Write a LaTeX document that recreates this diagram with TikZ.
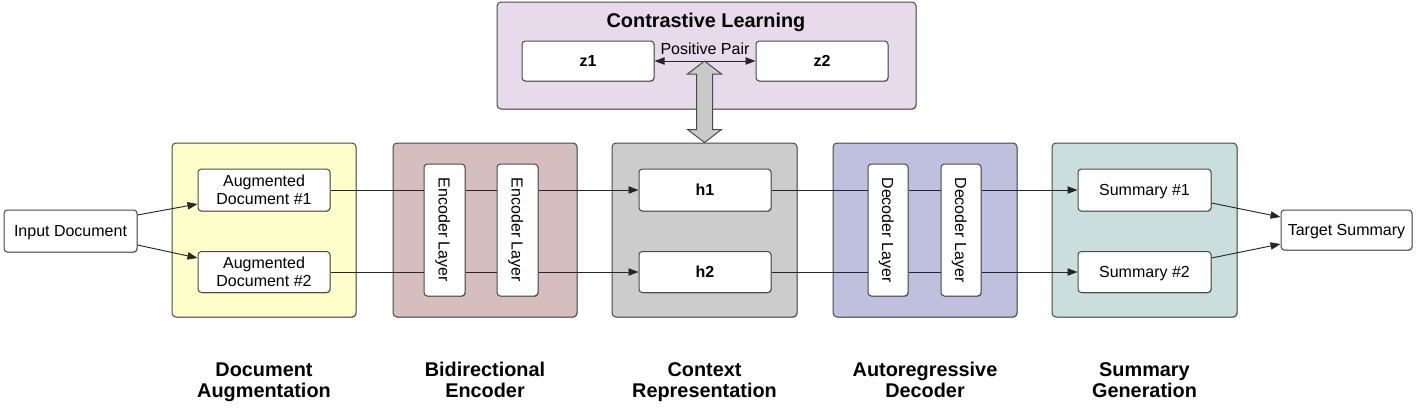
\documentclass[tikz,border=0pt]{standalone}
\usepackage{fontspec}
\setmainfont{Liberation Sans}
\usetikzlibrary{arrows.meta,shadows,calc}
\definecolor{augc}{HTML}{FFFFCC}
\definecolor{encc}{HTML}{D6BDBE}
\definecolor{ctxc}{HTML}{CCCCCC}
\definecolor{decc}{HTML}{BFBFDE}
\definecolor{sumc}{HTML}{CADFDD}
\definecolor{clc}{HTML}{E7DAEA}
\definecolor{edge}{HTML}{4A4A4A}
\begin{document}
\begin{tikzpicture}[x=0.75pt,y=-0.75pt,
  sz/.style n args={2}{minimum width=#1*0.75pt, minimum height=#2*0.75pt},
  shd/.style={drop shadow={shadow xshift=0.5pt, shadow yshift=-0.6pt, opacity=0.3, fill=black}},
  grp/.style={draw=edge, line width=0.75pt, rounded corners=3pt, inner sep=0pt, shd},
  wbox/.style={draw=edge, fill=white, line width=0.75pt, rounded corners=2.5pt, inner sep=0pt, align=center, font=\fontsize{12}{13.2}\selectfont, shd},
  one/.style={wbox, text depth=0pt},
  bbox/.style={one, font=\fontsize{12}{13.2}\selectfont\bfseries},
  lay/.style={one, rotate=-90},
  lab/.style={align=center, font=\fontsize{14.9}{15.75}\selectfont\bfseries, inner sep=0pt},
  conn/.style={draw=black!85, line width=0.7pt},
  tip/.tip={Triangle[length=7.5pt,width=5.5pt]},
  arr/.style={conn, -tip}
]
\useasboundingbox (0,0) rectangle (1417,412);

% group boxes
\node[grp, fill=clc, sz={419}{107}] (cl) at (706.5,55.5) {};
\node[grp, fill=augc, sz={184}{174}] (gaug) at (264,230) {};
\node[grp, fill=encc, sz={184}{174}] (genc) at (485,230) {};
\node[grp, fill=ctxc, sz={185}{174}] (ctx) at (704.5,230) {};
\node[grp, fill=decc, sz={184}{174}] (gdec) at (925,230) {};
\node[grp, fill=sumc, sz={185}{174}] (gsum) at (1144.5,230) {};

% title and contrastive nodes
\node[font=\fontsize{14.9}{16}\selectfont\bfseries, anchor=base] (cltitle) at (706,27) {Contrastive Learning};
\node[bbox, sz={132}{40}] (z1) at (588,61) {z1};
\node[bbox, sz={132}{40}] (z2) at (822,61) {z2};
\draw[conn, tip-tip] (z1.east) -- (z2.west);
\node[font=\fontsize{12}{13}\selectfont, anchor=base] (pp) at (705,54) {Positive Pair};

% inner nodes
\node[one, sz={133}{42}] (input) at (70.5,231) {Input Document};
\node[wbox, sz={132}{42}] (aug1) at (264,190) {Augmented\\Document \#1};
\node[wbox, sz={132}{41}] (aug2) at (264,272) {Augmented\\Document \#2};
\node[lay, sz={132}{41}] (enc1) at (444.5,230) {Encoder Layer};
\node[lay, sz={132}{41}] (enc2) at (517.5,230) {Encoder Layer};
\node[bbox, sz={132}{42}] (h1) at (705,190) {h1};
\node[bbox, sz={132}{41}] (h2) at (705,272) {h2};
\node[lay, sz={132}{40}] (dec1) at (888,230) {Decoder Layer};
\node[lay, sz={132}{40}] (dec2) at (961,230) {Decoder Layer};
\node[one, sz={133}{42}] (sum1) at (1144.5,190) {Summary \#1};
\node[one, sz={133}{41}] (sum2) at (1144.5,272) {Summary \#2};
\node[one, sz={131}{40}] (target) at (1346.5,230) {Target Summary};

% connectors (rotated layers: south = left side, north = right side)
\draw[arr] ($(input.east)+(0,-16)$) -- ($(aug1.west)+(0,14)$);
\draw[arr] ($(input.east)+(0,14)$) -- ($(aug2.west)+(0,-14)$);

\draw[conn] (aug1.east) -- (aug1.east -| enc1.south);
\draw[conn] (aug1.east -| enc1.north) -- (aug1.east -| enc2.south);
\draw[arr] (aug1.east -| enc2.north) -- (h1.west);
\draw[conn] (aug2.east) -- (aug2.east -| enc1.south);
\draw[conn] (aug2.east -| enc1.north) -- (aug2.east -| enc2.south);
\draw[arr] (aug2.east -| enc2.north) -- (h2.west);

\draw[conn] (h1.east) -- (h1.east -| dec1.south);
\draw[conn] (h1.east -| dec1.north) -- (h1.east -| dec2.south);
\draw[arr] (h1.east -| dec2.north) -- (sum1.west);
\draw[conn] (h2.east) -- (h2.east -| dec1.south);
\draw[conn] (h2.east -| dec1.north) -- (h2.east -| dec2.south);
\draw[arr] (h2.east -| dec2.north) -- (sum2.west);

\draw[arr] ($(sum1.east)+(0,13)$) -- ($(target.west)+(0,-13)$);
\draw[arr] ($(sum2.east)+(0,-14)$) -- ($(target.west)+(0,14)$);

% double arrow between contrastive learning and context
\coordinate (dt) at (ctx.north |- z1.east);
\coordinate (db) at (ctx.north);
\draw[draw=edge, fill=gray!42, line width=0.75pt, line join=miter]
  (dt) -- ($(dt)+(17,13)$) -- ($(dt)+(8,13)$) -- ($(db)+(8,-13)$) -- ($(db)+(17,-13)$)
  -- (db) -- ($(db)+(-17,-13)$) -- ($(db)+(-8,-13)$) -- ($(dt)+(-8,13)$) -- ($(dt)+(-17,13)$) -- cycle;

% bottom labels (base anchor = last line baseline)
\node[lab, anchor=base] (l1) at (gaug.south |- 0,397) {Document\\Augmentation};
\node[lab, anchor=base] (l2) at (genc.south |- 0,397) {Bidirectional\\Encoder};
\node[lab, anchor=base] (l3) at (ctx.south |- 0,397) {Context\\Representation};
\node[lab, anchor=base] (l4) at (gdec.south |- 0,397) {Autoregressive\\Decoder};
\node[lab, anchor=base] (l5) at (gsum.south |- 0,397) {Summary\\Generation};
\end{tikzpicture}
\end{document}
